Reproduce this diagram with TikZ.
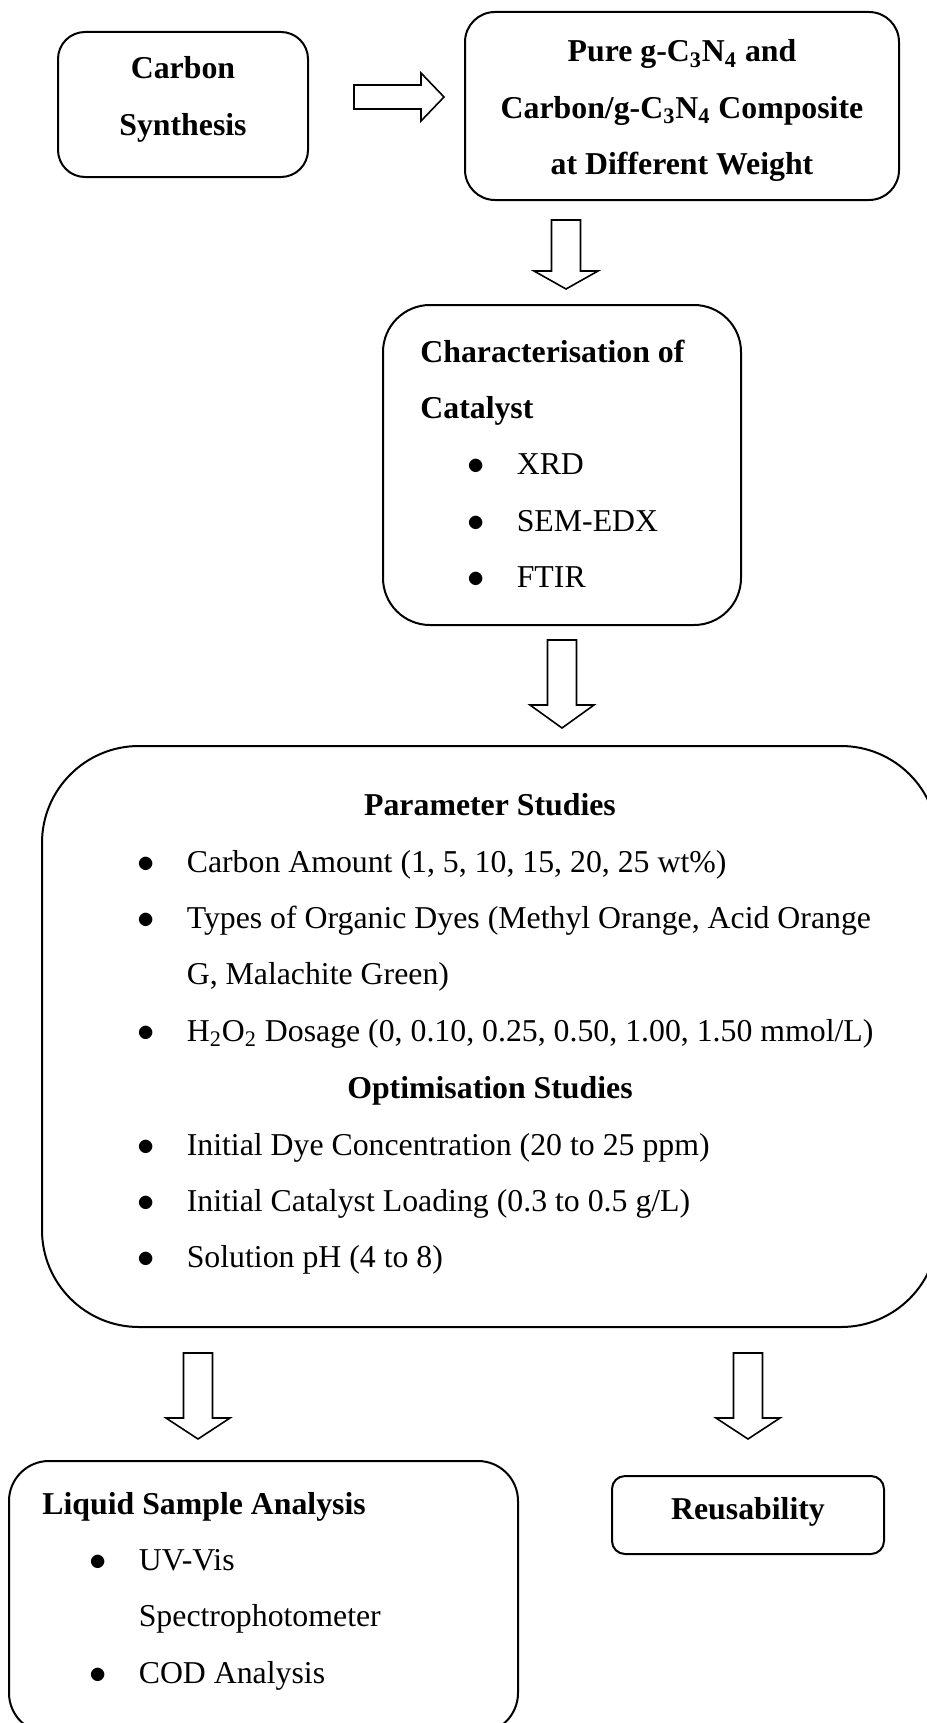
\documentclass[tikz,border=0pt]{standalone}
\usepackage{fontspec}
\setmainfont{Liberation Serif}
\usetikzlibrary{calc,fit}

\tikzset{
  stepbox/.style={draw, line width=1pt, inner sep=0pt},
  blockarrow/.style={draw, line width=0.8pt, line join=miter},
}
\newcommand{\itm}{\makebox[24.7pt][l]{$\bullet$}}
\newcommand{\gcn}{g-C\textsubscript{3}N\textsubscript{4}}
\newcommand{\blockdown}[3]{%
  \draw[blockarrow] let \p1=(#1), \p2=(#2) in
    ({\x1-7.25pt},\y1) -- ({\x1+7.25pt},\y1) -- ({\x1+7.25pt},{\y2+#3}) -- ({\x1+16pt},{\y2+#3})
    -- (\x2,\y2) -- ({\x1-16pt},{\y2+#3}) -- ({\x1-7.25pt},{\y2+#3}) -- cycle;}
\newcommand{\blockright}[3]{%
  \draw[blockarrow] let \p1=(#1), \p2=(#2) in
    (\x1,{\y1+6pt}) -- ({\x2-#3},{\y1+6pt}) -- ({\x2-#3},{\y1+12pt}) -- (\x2,\y2)
    -- ({\x2-#3},{\y1-12pt}) -- ({\x2-#3},{\y1-6pt}) -- (\x1,{\y1-6pt}) -- cycle;}

\begin{document}
\begin{tikzpicture}[x=0.5pt, y=-0.5pt,
    every node/.style={inner sep=0pt, font=\fontsize{15.9}{28.2}\selectfont}]
    \fill[white] (0,0) rectangle (926,1723);
    \useasboundingbox (0,0) rectangle (926,1723);

    \node [stepbox, rounded corners=13.5pt, fit={(58,32) (308,177)}] (synth) {};
    \node [anchor=base] (synthtxt) at (183,79)
    {\begin{tabular}[t]{@{}c@{}}
        \textbf{Carbon}\\
        \textbf{Synthesis}
    \end{tabular}};

    \node [stepbox, rounded corners=15pt, fit={(465,12) (899,200)}] (compo) {};
    \node [anchor=base] (compotxt) at (682,62)
    {\begin{tabular}[t]{@{}c@{}}
        \textbf{Pure \gcn\ and}\\
        \textbf{Carbon/\gcn\ Composite}\\
        \textbf{at Different Weight}
    \end{tabular}};

    \node [stepbox, rounded corners=23.5pt, fit={(383,305) (741,625)}] (charact) {};
    \node [anchor=base west] (characttxt) at (420,362)
    {\begin{tabular}[t]{@{}l@{}}
        \textbf{Characterisation of}\\
        \textbf{Catalyst}\\
        \hspace{23.5pt}\itm XRD\\
        \hspace{23.5pt}\itm SEM-EDX\\
        \hspace{23.5pt}\itm FTIR
    \end{tabular}};

    \node [stepbox, rounded corners=48.5pt, fit={(42,746) (938,1327)}] (studies) {};
    \node [anchor=base] (paramhead) at (490,815) {\textbf{Parameter Studies}};
    \node [anchor=base west] (paramlist) at (137,872)
    {\begin{tabular}[t]{@{}l@{}}
        \itm Carbon Amount (1, 5, 10, 15, 20, 25 wt\%)\\
        \itm Types of Organic Dyes (Methyl Orange, Acid Orange\\
        \hspace{24.7pt}G, Malachite Green)\\
        \itm H\textsubscript{2}O\textsubscript{2} Dosage (0, 0.10, 0.25, 0.50, 1.00, 1.50 mmol/L)
    \end{tabular}};
    \node [anchor=base] (opthead) at (490,1098) {\textbf{Optimisation Studies}};
    \node [anchor=base west] (optlist) at (137,1155)
    {\begin{tabular}[t]{@{}l@{}}
        \itm Initial Dye Concentration (20 to 25 ppm)\\
        \itm Initial Catalyst Loading (0.3 to 0.5 g/L)\\
        \itm Solution pH (4 to 8)
    \end{tabular}};

    \node [stepbox, rounded corners=20pt, fit={(9,1461) (518,1733)}] (liquid) {};
    \node [anchor=base west] (liquidtxt) at (42,1514)
    {\begin{tabular}[t]{@{}l@{}}
        \textbf{Liquid Sample Analysis}\\
        \hspace{23.5pt}\itm UV-Vis\\
        \hspace{23.5pt}\hspace{24.7pt}Spectrophotometer\\
        \hspace{23.5pt}\itm COD Analysis
    \end{tabular}};

    \node [stepbox, rounded corners=6.5pt, fit={(612,1476) (884,1554)}] (reuse) {};
    \node [anchor=base] (reusetxt) at (748,1519) {\textbf{Reusability}};

    \coordinate (ra) at (354,97);   \coordinate (rat) at (444,97);
    \coordinate (da) at (566,220);  \coordinate (dat) at (566,289);
    \coordinate (db) at (562,640);  \coordinate (dbt) at (562,728);
    \coordinate (dc) at (198,1353); \coordinate (dct) at (198,1439);
    \coordinate (dd) at (748,1353); \coordinate (ddt) at (748,1439);
    \blockright{ra}{rat}{11.5pt}
    \blockdown{da}{dat}{9pt}
    \blockdown{db}{dbt}{11.5pt}
    \blockdown{dc}{dct}{10.5pt}
    \blockdown{dd}{ddt}{10.5pt}
\end{tikzpicture}
\end{document}
